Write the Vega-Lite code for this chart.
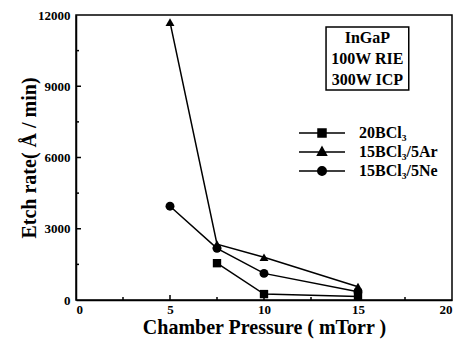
{
  "$schema": "https://vega.github.io/schema/vega-lite/v6.json",
  "width": 376,
  "height": 285,
  "autosize": {"type": "none"},
  "padding": {"left": 76, "top": 15, "right": 8, "bottom": 45},
  "config": {
    "font": "Liberation Serif",
    "view": {"stroke": "black", "strokeWidth": 1.5},
    "axis": {
      "labelFont": "Liberation Serif", "labelFontWeight": "bold", "labelFontSize": 13, "labelColor": "black",
      "titleFont": "Liberation Serif", "titleFontWeight": "bold", "titleFontSize": 20, "titleColor": "black",
      "grid": false, "ticks": false, "domainColor": "black", "domainWidth": 1.5
    },
    "legend": {"labelFont": "Liberation Serif", "labelFontWeight": "bold", "labelFontSize": 16, "labelColor": "black", "title": null, "padding": 0}
  },
  "datasets": {
    "pts": [
      {"series": "20BCl₃", "p": 7.5, "r": 1550},
      {"series": "20BCl₃", "p": 10, "r": 250},
      {"series": "20BCl₃", "p": 15, "r": 150},
      {"series": "15BCl₃/5Ar", "p": 5, "r": 11700},
      {"series": "15BCl₃/5Ar", "p": 7.5, "r": 2350},
      {"series": "15BCl₃/5Ar", "p": 10, "r": 1800},
      {"series": "15BCl₃/5Ar", "p": 15, "r": 560},
      {"series": "15BCl₃/5Ne", "p": 5, "r": 3950},
      {"series": "15BCl₃/5Ne", "p": 7.5, "r": 2175},
      {"series": "15BCl₃/5Ne", "p": 10, "r": 1120},
      {"series": "15BCl₃/5Ne", "p": 15, "r": 350}
    ],
    "xmajor": [{"v": 5}, {"v": 10}, {"v": 15}],
    "xminor": [{"v": 2.5}, {"v": 7.5}, {"v": 12.5}, {"v": 17.5}],
    "ymajor": [{"v": 3000}, {"v": 6000}, {"v": 9000}],
    "yminor": [{"v": 1500}, {"v": 4500}, {"v": 7500}, {"v": 10500}],
    "box": [{"x1": 13.3, "x2": 17.7, "y1": 8840, "y2": 11500}],
    "note": [
      {"line": "InGaP", "x": 15.5, "y": 11030},
      {"line": "100W RIE", "x": 15.5, "y": 10150},
      {"line": "300W ICP", "x": 15.5, "y": 9270}
    ]
  },
  "layer": [
    {
      "data": {"name": "pts"},
      "mark": {"type": "line", "strokeWidth": 1.5},
      "encoding": {
        "x": {"field": "p", "type": "quantitative", "scale": {"domain": [0, 20], "nice": false},
          "axis": {"values": [0, 5, 10, 15, 20], "title": "Chamber Pressure ( mTorr )", "titlePadding": 1, "labelPadding": 3}},
        "y": {"field": "r", "type": "quantitative", "scale": {"domain": [0, 12000], "nice": false},
          "axis": {"values": [0, 3000, 6000, 9000, 12000], "labelExpr": "replace(datum.label, ',', '')", "title": "Etch rate( Å / min)", "titlePadding": -2, "labelPadding": 6}},
        "color": {"field": "series", "type": "nominal", "scale": {"domain": ["20BCl₃", "15BCl₃/5Ar", "15BCl₃/5Ne"], "range": ["black", "black", "black"]},
          "legend": {"orient": "none", "legendX": 238, "legendY": 110, "symbolSize": 100, "labelOffset": 29, "rowPadding": 3,
            "encode": {"symbols": {"update": {
              "shape": {"signal": "datum.value === '20BCl₃' ? 'M-4.6,0H4.6M-0.8,-0.8H0.8V0.8H-0.8Z' : datum.value === '15BCl₃/5Ar' ? 'M-4.6,0H4.6M0,-1L0.9,0.65H-0.9Z' : 'M-4.6,0H4.6M0.85,0A0.85,0.85 0 1 1 -0.85,0A0.85,0.85 0 1 1 0.85,0Z'"},
              "fill": {"value": "black"},
              "stroke": {"value": "black"},
              "strokeWidth": {"value": 1.5},
              "opacity": {"value": 1}
            }}}}}
      }
    },
    {
      "data": {"name": "xmajor"},
      "mark": {"type": "tick", "orient": "vertical", "color": "black", "opacity": 1, "size": 5, "thickness": 1.5, "yOffset": -2.5},
      "encoding": {"x": {"field": "v", "type": "quantitative"}, "y": {"datum": 0, "type": "quantitative"}}
    },
    {
      "data": {"name": "xminor"},
      "mark": {"type": "tick", "orient": "vertical", "color": "black", "opacity": 1, "size": 3, "thickness": 1.5, "yOffset": -1.5},
      "encoding": {"x": {"field": "v", "type": "quantitative"}, "y": {"datum": 0, "type": "quantitative"}}
    },
    {
      "data": {"name": "ymajor"},
      "mark": {"type": "tick", "orient": "horizontal", "color": "black", "opacity": 1, "size": 5, "thickness": 1.5, "xOffset": 2.5},
      "encoding": {"y": {"field": "v", "type": "quantitative"}, "x": {"datum": 0, "type": "quantitative"}}
    },
    {
      "data": {"name": "yminor"},
      "mark": {"type": "tick", "orient": "horizontal", "color": "black", "opacity": 1, "size": 3, "thickness": 1.5, "xOffset": 1.5},
      "encoding": {"y": {"field": "v", "type": "quantitative"}, "x": {"datum": 0, "type": "quantitative"}}
    },
    {
      "data": {"name": "pts"},
      "transform": [{"filter": "datum.series === '20BCl₃'"}],
      "mark": {"type": "point", "shape": "square", "filled": true, "color": "black", "opacity": 1, "size": 70},
      "encoding": {
        "x": {"field": "p", "type": "quantitative"},
        "y": {"field": "r", "type": "quantitative"}
      }
    },
    {
      "data": {"name": "pts"},
      "transform": [{"filter": "datum.series === '15BCl₃/5Ar'"}],
      "mark": {"type": "point", "shape": "triangle-up", "filled": true, "color": "black", "opacity": 1, "size": 80},
      "encoding": {
        "x": {"field": "p", "type": "quantitative"},
        "y": {"field": "r", "type": "quantitative"}
      }
    },
    {
      "data": {"name": "pts"},
      "transform": [{"filter": "datum.series === '15BCl₃/5Ne'"}],
      "mark": {"type": "point", "shape": "circle", "filled": true, "color": "black", "opacity": 1, "size": 80},
      "encoding": {
        "x": {"field": "p", "type": "quantitative"},
        "y": {"field": "r", "type": "quantitative"}
      }
    },
    {
      "data": {"name": "box"},
      "mark": {"type": "rect", "fill": "white", "stroke": "black", "strokeWidth": 1.5},
      "encoding": {
        "x": {"field": "x1", "type": "quantitative"}, "x2": {"field": "x2"},
        "y": {"field": "y1", "type": "quantitative"}, "y2": {"field": "y2"}
      }
    },
    {
      "data": {"name": "note"},
      "mark": {"type": "text", "font": "Liberation Serif", "fontWeight": "bold", "fontSize": 16, "color": "black", "align": "center", "baseline": "middle"},
      "encoding": {
        "x": {"field": "x", "type": "quantitative"},
        "y": {"field": "y", "type": "quantitative"},
        "text": {"field": "line"}
      }
    }
  ]
}
